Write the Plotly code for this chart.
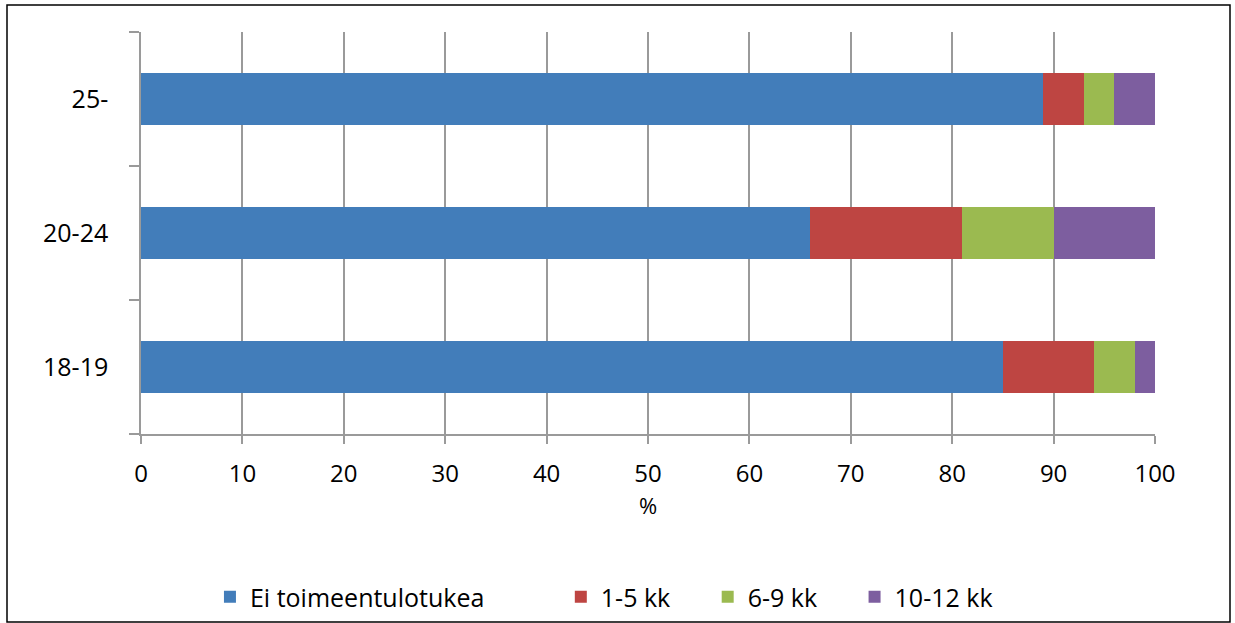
import plotly.graph_objects as go

categories = ["18-19", "20-24", "25-"]
series_names = ["Ei toimeentulotukea", "1-5 kk", "6-9 kk", "10-12 kk"]
ei_tukea = [85, 66, 89]
kk_1_5 = [9, 15, 4]
kk_6_9 = [4, 9, 3]
kk_10_12 = [2, 10, 4]
x_ticks = list(range(0, 101, 10))
colors = ["#427DBA", "#BE4542", "#9BBA50", "#7D5E9F"]
pads = [11, 5, 5, 0]

FONT = "Open Sans"
fig = go.Figure()
for name, vals, col, p in zip(series_names, [ei_tukea, kk_1_5, kk_6_9, kk_10_12], colors, pads):
    fig.add_trace(go.Bar(y=categories, x=vals, name=name + "\u00a0" * p, orientation="h",
                         marker=dict(color=col, line=dict(width=0)), width=0.39))

fig.update_layout(
    barmode="stack",
    width=1235, height=623,
    margin=dict(l=141, r=80, t=32, b=189),
    plot_bgcolor="white", paper_bgcolor="white",
    font=dict(family=FONT, size=25, color="black"),
    showlegend=True,
    legend=dict(orientation="h", x=0.068, xanchor="left",
                yref="container", y=1 - 597 / 623, yanchor="middle",
                bgcolor="rgba(0,0,0,0)",
                font=dict(family=FONT, size=25), traceorder="normal",
                itemwidth=30),
    xaxis=dict(range=[0, 100], tickvals=x_ticks, showgrid=True, gridcolor="#9a9a9a",
               gridwidth=1.5, showline=True, linecolor="#9a9a9a", linewidth=1.5,
               ticks="outside", ticklen=8, tickcolor="#9a9a9a", tickwidth=1.5,
               ticklabelstandoff=9, automargin=False,
               zeroline=False, tickfont=dict(size=24)),
    yaxis=dict(categoryorder="array", categoryarray=categories, showgrid=False,
               showline=True, linecolor="#9a9a9a", linewidth=1.5, automargin=False,
               ticks="outside", ticklen=10, tickcolor="#9a9a9a", tickwidth=1.5,
               tickson="boundaries", ticklabelstandoff=26, tickfont=dict(size=25)),
    annotations=[dict(text="%", xref="paper", yref="paper", x=0.5, y=(434 - 505) / 402,
                      xanchor="center", yanchor="middle", showarrow=False,
                      font=dict(size=22))],
    shapes=[dict(type="rect", xref="paper", yref="paper",
                 x0=(7 - 141) / 1014, x1=(1230 - 141) / 1014,
                 y0=(434 - 622) / 402, y1=(434 - 5) / 402,
                 line=dict(color="black", width=1.5), fillcolor="rgba(0,0,0,0)", layer="below")],
)
fig.write_html("out.html", config={"displayModeBar": False},
               post_script="document.body.style.margin='0';")
